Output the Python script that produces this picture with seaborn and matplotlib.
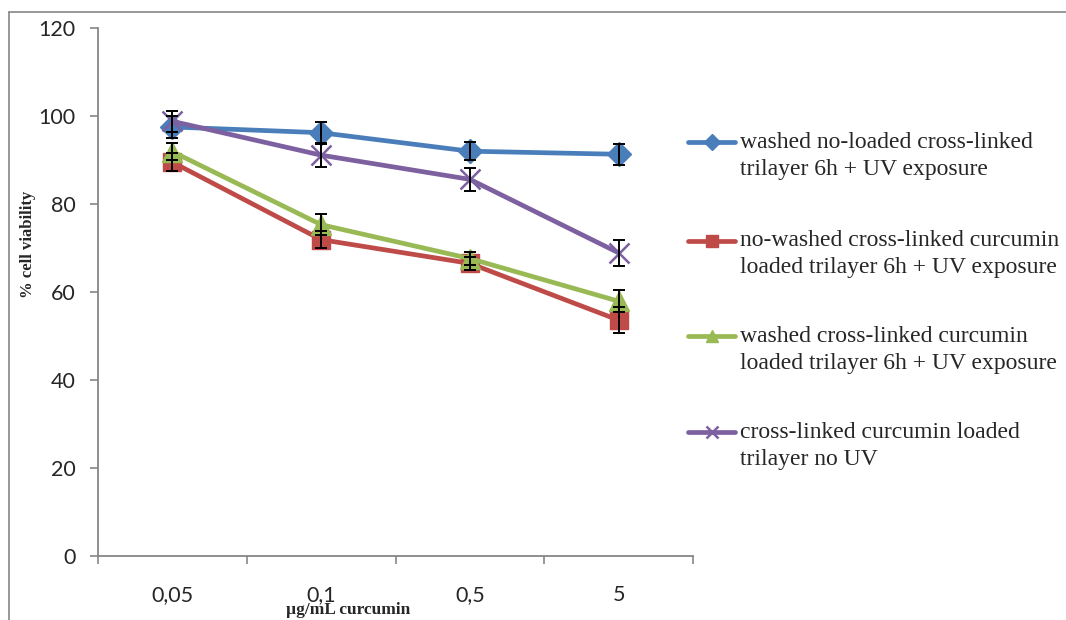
import numpy as np
import pandas as pd
import matplotlib
matplotlib.use("Agg")
import matplotlib.pyplot as plt
from matplotlib.lines import Line2D
import seaborn as sns

# Data
concentrations = ["0,05", "0,1", "0,5", "5"]
series_names = [
    "washed no-loaded cross-linked\ntrilayer 6h + UV exposure",
    "no-washed cross-linked curcumin\nloaded trilayer 6h + UV exposure",
    "washed cross-linked curcumin\nloaded trilayer 6h + UV exposure",
    "cross-linked curcumin loaded\ntrilayer no UV",
]
washed_noloaded = [97.5, 96.2, 92.0, 91.3]
nowashed_loaded = [89.5, 71.9, 66.5, 53.6]
washed_loaded = [91.9, 75.3, 67.6, 57.9]
no_uv = [98.8, 91.1, 85.6, 68.9]
washed_noloaded_err = [2.5, 2.5, 2.1, 2.4]
nowashed_loaded_err = [2.1, 2.0, 1.5, 2.9]
washed_loaded_err = [2.0, 2.4, 1.5, 2.5]
no_uv_err = [2.4, 2.7, 2.6, 3.0]

colors = ["#4A7EBB", "#BE4B48", "#98B954", "#7D60A0"]
markers = ["D", "s", "^", "x"]
marker_sizes = [12, 12.5, 14, 14]

values = [washed_noloaded, nowashed_loaded, washed_loaded, no_uv]
errors = [washed_noloaded_err, nowashed_loaded_err, washed_loaded_err, no_uv_err]

rows = []
for name, vals in zip(series_names, values):
    for i, v in enumerate(vals):
        rows.append({"pos": i, "conc": concentrations[i], "series": name, "viability": v})
df = pd.DataFrame(rows)

sns.set_style("white")
plt.rcParams["font.family"] = ["Lato", "DejaVu Sans"]

W, H = 1066, 620
fig = plt.figure(figsize=(W / 100, H / 100), dpi=100)
ax = fig.add_axes([98 / W, 1 - 556 / H, 595 / W, 528 / H])

for name, color, mk, ms in zip(series_names, colors, markers, marker_sizes):
    sub = df[df["series"] == name]
    sns.lineplot(data=sub, x="pos", y="viability", ax=ax, color=color, linewidth=3.4,
                 marker=mk, markersize=ms, markeredgecolor=color,
                 markeredgewidth=1.8 if mk == "x" else 1.0, legend=False, zorder=3)

for vals, errs in zip(values, errors):
    ax.errorbar(range(len(concentrations)), vals, yerr=errs, fmt="none", ecolor="black",
                elinewidth=1.4, capsize=4, capthick=1.4, zorder=4)

ax.set_xlim(-0.5, len(concentrations) - 0.5)
ax.set_ylim(0, 120)
ax.set_yticks(np.arange(0, 121, 20))
ax.set_xticks(np.arange(-0.5, len(concentrations), 1.0))
ax.set_xticklabels([])
ax.set_xticks(range(len(concentrations)), minor=True)
ax.set_xticklabels(concentrations, minor=True)
ax.tick_params(axis="x", which="major", bottom=True, length=6, width=1.2, color="#868686",
               direction="out")
ax.tick_params(axis="x", which="minor", bottom=False, length=0, pad=21, labelsize=15.5)
ax.tick_params(axis="y", left=True, length=6, width=1.2, color="#868686", direction="out",
               labelsize=15.5, pad=10)

for s in ["top", "right"]:
    ax.spines[s].set_visible(False)
for s in ["left", "bottom"]:
    ax.spines[s].set_color("#868686")
    ax.spines[s].set_linewidth(1.3)

ax.set_xlabel("µg/mL curcumin", family="Liberation Serif", fontweight="bold", fontsize=12.5)
ax.set_ylabel("% cell viability", family="Liberation Serif", fontweight="bold", fontsize=12)
ax.xaxis.set_label_coords(0.42, -0.088)
ax.yaxis.set_label_coords(-0.105, 0.59)

# legend: handle sits on the first line of each two-line entry
line_centres = [(142, 170), (241, 268), (336, 363), (432, 459)]
for name, color, mk, (y1, y2) in zip(series_names, colors, markers, line_centres):
    fig.add_artist(Line2D([688 / W, 735 / W], [1 - y1 / H] * 2, color=color, linewidth=3.4,
                          solid_capstyle="round"))
    fig.add_artist(Line2D([711.5 / W], [1 - y1 / H], color=color, marker=mk, markersize=8,
                          markeredgecolor=color, markeredgewidth=1.8 if mk == "x" else 1.0))
    first, second = name.split("\n")
    for txt, yy in ((first, y1), (second, y2)):
        fig.text(740 / W, 1 - yy / H, txt, family="Liberation Serif", fontsize=17,
                 ha="left", va="center")

# outer chart border (top and left edges visible)
fig.add_artist(Line2D([9 / W, 1.0], [1 - 12 / H, 1 - 12 / H], color="#868686", linewidth=1.2))
fig.add_artist(Line2D([9 / W, 9 / W], [0, 1 - 12 / H], color="#868686", linewidth=1.2))

fig.savefig("out.png", dpi=100)
